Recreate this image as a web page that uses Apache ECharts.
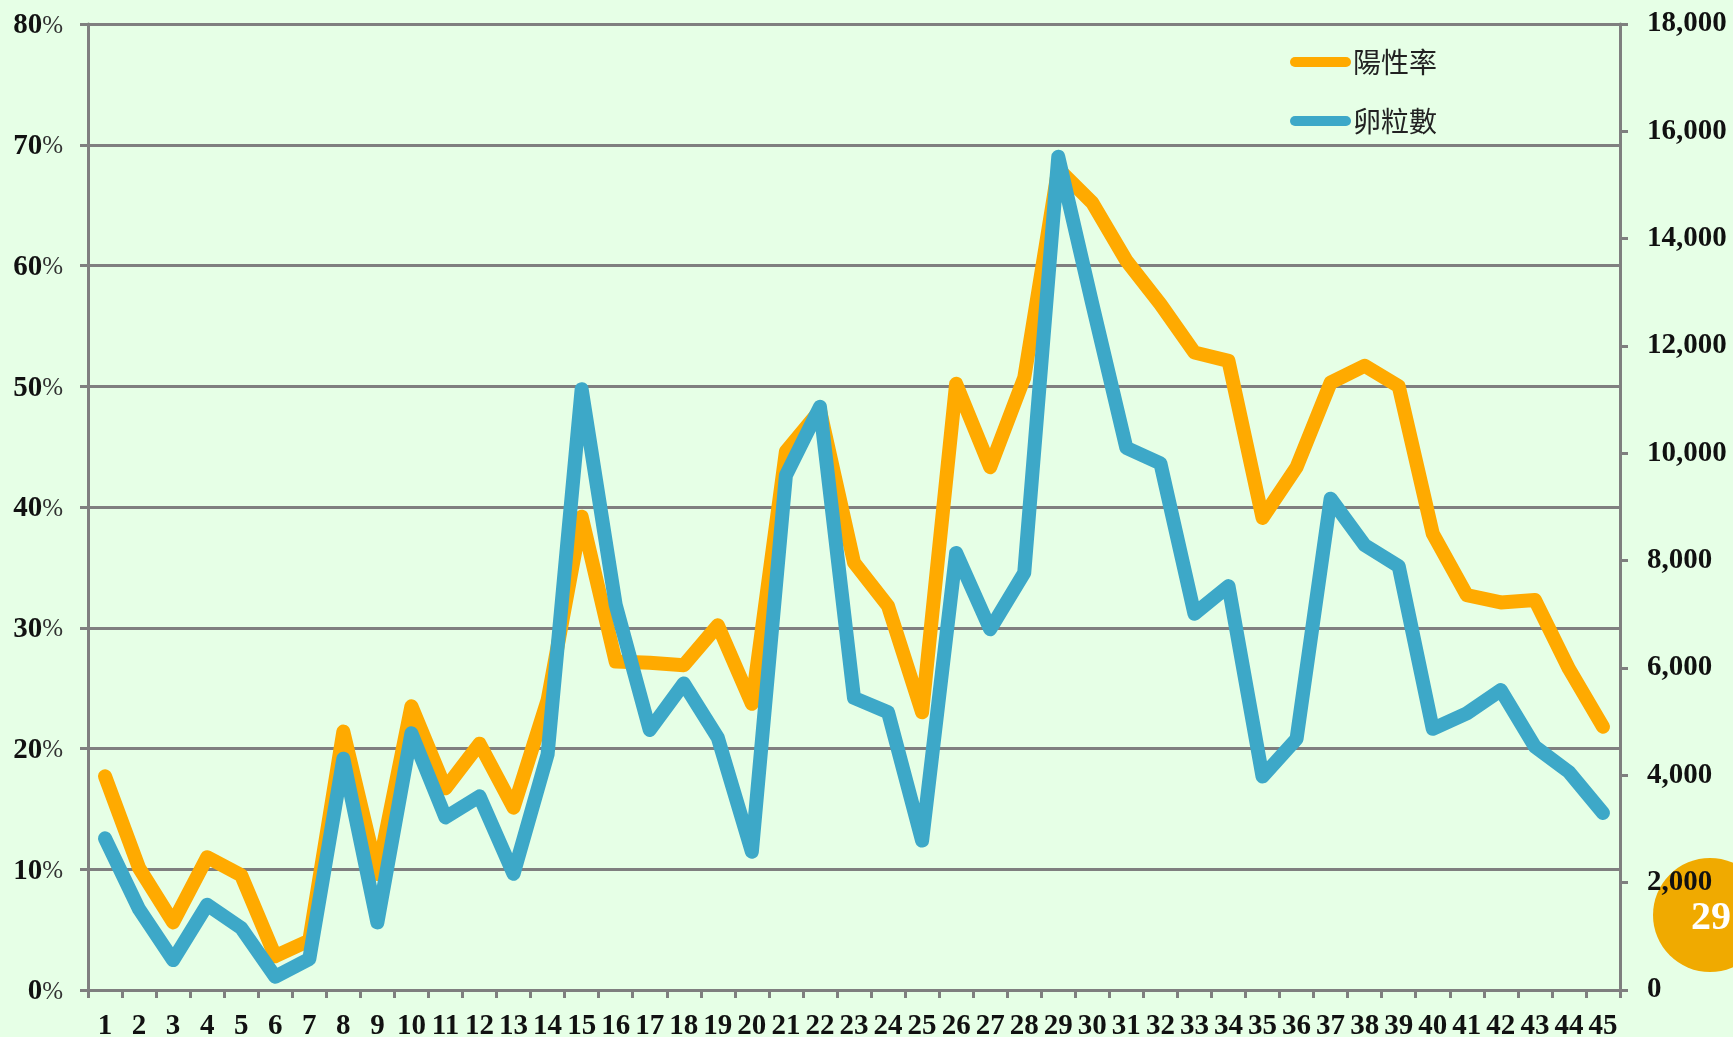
<!DOCTYPE html>
<html>
<head>
<meta charset="utf-8">
<style>
  html, body { margin: 0; padding: 0; background: #e6ffe6; overflow: hidden; }
  #main { width: 1733px; height: 1037px; }
</style>
<script src="https://cdn.jsdelivr.net/npm/echarts@6/dist/echarts.min.js"></script>
</head>
<body>
<div id="main"></div>
<script>
const weeks = ["1","2","3","4","5","6","7","8","9","10","11","12","13","14","15","16","17","18","19","20","21","22","23","24","25","26","27","28","29","30","31","32","33","34","35","36","37","38","39","40","41","42","43","44","45"];

// 陽性率 (%)
const positiveRate = [17.7,10.1,5.6,11,9.5,2.8,4.1,21.4,9.6,23.5,16.7,20.4,15.1,24,39.2,27.2,27.1,26.9,30.2,23.7,44.6,48,35.4,31.8,23,50.2,43.3,50.7,68,65.2,60.4,56.8,52.8,52.1,39.1,43.3,50.3,51.7,50,37.8,32.7,32.1,32.3,26.6,21.8];

// 卵粒數
const eggCount = [2825,1505,557,1588,1155,247,577,4310,1258,4783,3216,3608,2165,4392,11196,7175,4845,5711,4701,2577,9588,10866,5443,5175,2784,8144,6722,7773,15526,12783,10103,9814,7010,7526,3979,4680,9155,8289,7897,4866,5155,5588,4536,4062,3299];

const pageNumber = "29";

const axisGray = "#7f7f7f";
const serif = "'Liberation Serif', 'DejaVu Serif', serif";

const labelStyle = {
  color: "#111",
  fontFamily: serif,
  fontWeight: "bold",
  fontSize: 29,
};

const myChart = echarts.init(document.getElementById("main"), null, { renderer: "canvas" });

const option = {
  animation: false,
  backgroundColor: "#e6ffe6",
  grid: { left: 88, right: 113, top: 24, bottom: 47, containLabel: false, outerBoundsMode: "none" },
  legend: {
    orient: "vertical",
    left: 1285,
    top: 43,
    itemWidth: 61,
    itemHeight: 10,
    itemGap: 31,
    icon: "path://M5 0H56A5 5 0 0 1 56 10H5A5 5 0 0 1 5 0Z",
    data: ["陽性率", "卵粒數"],
    textStyle: {
      color: "#222",
      fontFamily: "'Noto Sans CJK TC'",
      fontSize: 28,
      padding: [0, 0, 0, -3],
    },
  },
  xAxis: {
    type: "category",
    data: weeks,
    boundaryGap: true,
    axisLine: { lineStyle: { color: axisGray, width: 3 } },
    axisTick: { show: true, alignWithLabel: false, length: 8, lineStyle: { color: axisGray, width: 3 } },
    axisLabel: Object.assign({ interval: 0, margin: 22 }, labelStyle),
    splitLine: { show: false },
  },
  yAxis: [
    {
      type: "value",
      min: 0,
      max: 80,
      interval: 10,
      position: "left",
      axisLine: { show: true, lineStyle: { color: axisGray, width: 3 } },
      axisTick: { show: true, length: 8, lineStyle: { color: axisGray, width: 3 } },
      axisLabel: Object.assign({
        margin: 25,
        padding: [4, 0, 0, 0],
        formatter: (v) => v + "{p|%}",
        rich: { p: { fontFamily: serif, fontSize: 25, fontWeight: "normal", color: "#333" } },
      }, labelStyle),
      splitLine: { show: true, lineStyle: { color: axisGray, width: 3 } },
    },
    {
      type: "value",
      min: 0,
      max: 18000,
      interval: 2000,
      position: "right",
      axisLine: { show: true, lineStyle: { color: axisGray, width: 3 } },
      axisTick: { show: true, length: 8, lineStyle: { color: axisGray, width: 3 } },
      axisLabel: Object.assign({
        margin: 27,
        padding: [4, 0, 0, 0],
        formatter: (v) => v.toLocaleString("en-US"),
      }, labelStyle),
      splitLine: { show: false },
    },
  ],
  series: [
    {
      name: "陽性率",
      type: "line",
      yAxisIndex: 0,
      data: positiveRate,
      showSymbol: false,
      symbol: "none",
      itemStyle: { color: "#ffaa00" },
      lineStyle: { color: "#ffaa00", width: 14, cap: "round", join: "round" },
    },
    {
      name: "卵粒數",
      type: "line",
      yAxisIndex: 1,
      data: eggCount,
      showSymbol: false,
      symbol: "none",
      itemStyle: { color: "#3da8c8" },
      lineStyle: { color: "#3da8c8", width: 14, cap: "round", join: "round" },
    },
  ],
  graphic: [
    {
      type: "circle",
      z: -1,
      silent: true,
      shape: { cx: 1710, cy: 915, r: 57 },
      style: { fill: "#f0aa00" },
    },
    {
      type: "text",
      z: 10,
      silent: true,
      x: 1711,
      y: 919,
      style: {
        text: pageNumber,
        fill: "#fff",
        font: "bold 40px 'Liberation Serif'",
        align: "center",
        verticalAlign: "middle",
      },
    },
  ],
};

myChart.setOption(option);
</script>
</body>
</html>
